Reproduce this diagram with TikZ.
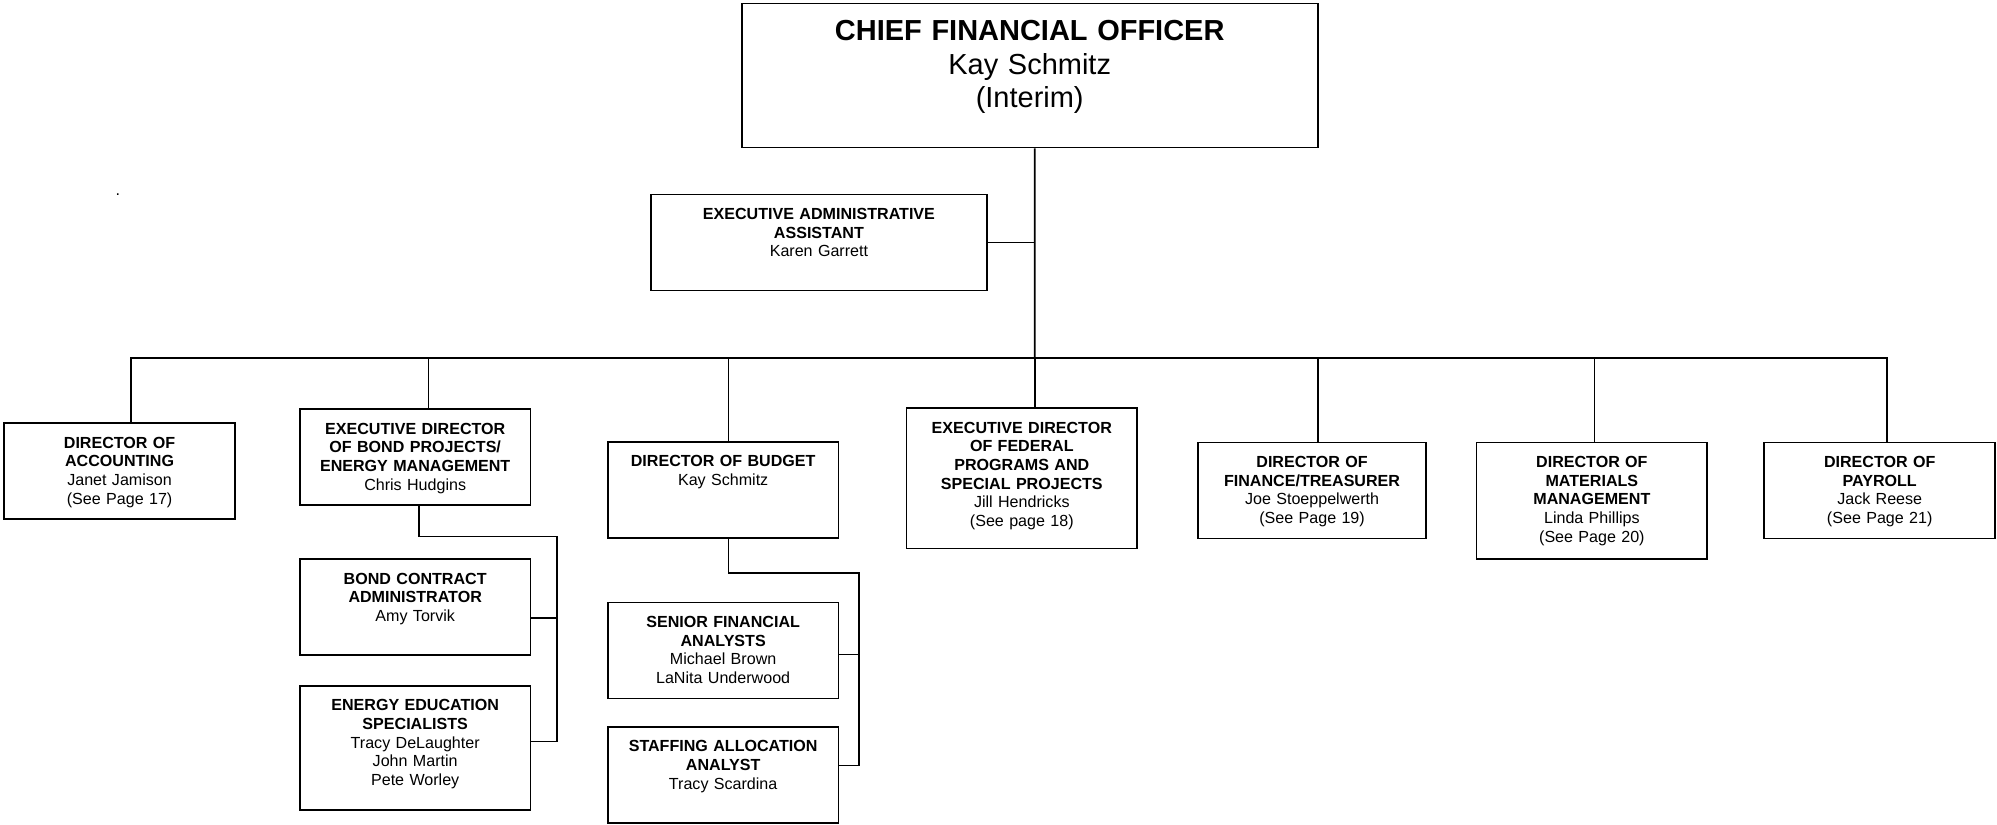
\documentclass[tikz,border=0pt]{standalone}
\usepackage{fontspec}
\setmainfont{Liberation Sans}
\usepackage{tikz}

\begin{document}
\begin{tikzpicture}[x=0.8pt, y=-0.8pt]
        \tikzstyle{orgBox} = [draw=black, line width=1.1pt, fill=white, anchor=north,
            inner xsep=2pt, inner ysep=0pt, text width=141pt, align=center,
            text height=15.8pt, text depth=44.5pt,
            font=\fontsize{10.1pt}{11.7pt}\selectfont]
        \tikzstyle{topBox} = [orgBox, text width=357.8pt, text height=23.2pt,
            text depth=67.2pt, font=\fontsize{18.2pt}{21.2pt}\selectfont]
        \tikzstyle{chartLine} = [draw=black, line width=1.1pt]
        \useasboundingbox (0,0) rectangle (1568,647);
        \node[topBox] (cfo) at (808.5,2.1) {\textbf{CHIEF FINANCIAL OFFICER}\\ Kay Schmitz\\ (Interim)};
        \node[orgBox, text width=207pt] (asst) at (643,152) {{\bfseries EXECUTIVE ADMINISTRATIVE\\ ASSISTANT}\\ Karen Garrett};
        \node[font=\fontsize{10.1pt}{11.7pt}\selectfont, anchor=base] (dot) at (92.5,153.5) {.};
        \node[orgBox] (acc) at (93.9,331.5) {{\bfseries DIRECTOR OF\\ ACCOUNTING}\\ Janet Jamison\\ (See Page 17)};
        \node[orgBox] (bond) at (326,320.5) {{\bfseries EXECUTIVE DIRECTOR\\ OF BOND PROJECTS/\\ ENERGY MANAGEMENT}\\ Chris Hudgins};
        \node[orgBox] (contract) at (326,438.3) {{\bfseries BOND CONTRACT\\ ADMINISTRATOR}\\ Amy Torvik};
        \node[orgBox, text depth=62.2pt] (energy) at (326,537.7) {{\bfseries ENERGY EDUCATION\\ SPECIALISTS}\\ Tracy DeLaughter\\ John Martin\\ Pete Worley};
        \node[orgBox] (budget) at (567.8,346.2) {{\bfseries DIRECTOR OF BUDGET}\\ Kay Schmitz};
        \node[orgBox] (senior) at (567.8,472.3) {{\bfseries SENIOR FINANCIAL\\ ANALYSTS}\\ Michael Brown\\ LaNita Underwood};
        \node[orgBox] (staff) at (567.8,569.9) {{\bfseries STAFFING ALLOCATION\\ ANALYST}\\ Tracy Scardina};
        \node[orgBox, text depth=72.3pt] (fed) at (802.3,319.8) {{\bfseries EXECUTIVE DIRECTOR\\ OF FEDERAL\\ PROGRAMS AND\\ SPECIAL PROJECTS}\\ Jill Hendricks\\ (See page 18)};
        \node[orgBox, text width=139.4pt] (fin) at (1030.2,346.7) {{\bfseries DIRECTOR OF\\ FINANCE/TREASURER}\\ Joe Stoeppelwerth\\ (See Page 19)};
        \node[orgBox, text depth=57.6pt] (mat) at (1249.9,346.7) {{\bfseries DIRECTOR OF\\ MATERIALS\\ MANAGEMENT}\\ Linda Phillips\\ (See Page 20)};
        \node[orgBox] (pay) at (1475.9,346.7) {{\bfseries DIRECTOR OF\\ PAYROLL}\\ Jack Reese\\ (See Page 21)};

        \coordinate (bus) at (812.4,281.3);
        \coordinate (bondRail) at (437.1,421.3);
        \coordinate (budgetRail) at (674.6,449.8);
        \path[chartLine] ([xshift=3.1pt]cfo.south) -- (bus);
        \path[chartLine] (asst.east) -- (asst.east -| bus);
        \foreach \who/\dx in {acc/7.3, bond/8.4, budget/3.3, fed/8.1,
                              fin/3.6, mat/1.6, pay/4.4}
            \path[chartLine] (bus) -| ([xshift=\dx pt]\who.north);
        \path[chartLine] ([xshift=2.4pt]bond.south) |- (bondRail) |- ([yshift=4pt]energy.east);
        \path[chartLine] (bondRail) |- ([yshift=-7pt]contract.east);
        \path[chartLine] ([xshift=3.3pt]budget.south) |- (budgetRail) |- ([yshift=5.8pt]staff.east);
        \path[chartLine] (budgetRail) |- ([yshift=-2.5pt]senior.east);
\end{tikzpicture}
\end{document}
